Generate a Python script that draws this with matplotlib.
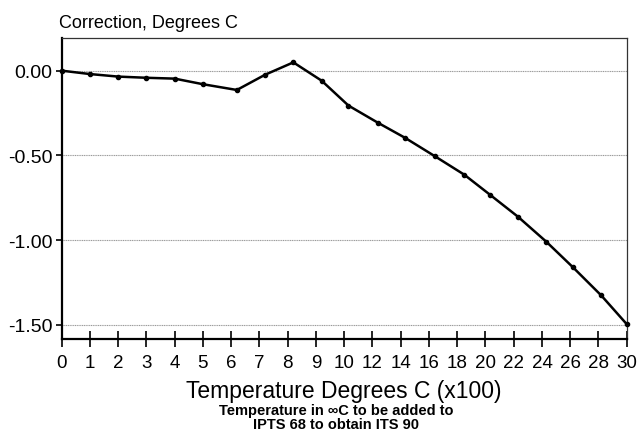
import numpy as np
import matplotlib
matplotlib.use("Agg")
import matplotlib.pyplot as plt

plt.rcParams['font.family'] = ['Liberation Sans', 'DejaVu Sans']

# temperature in degrees C (x100)
temp = [0, 1, 2, 3, 4, 5, 6.2, 7.2, 8.2, 9.2, 10.3, 12.4, 14.3, 16.4,
        18.5, 20.3, 22.3, 24.3, 26.2, 28.2, 30]
# correction, degrees C
corr = [0.00, -0.02, -0.035, -0.042, -0.047, -0.08, -0.114, -0.024, 0.049,
        -0.059, -0.206, -0.308, -0.396, -0.504, -0.614, -0.731, -0.862,
        -1.009, -1.161, -1.327, -1.496]

xticks = [0, 1, 2, 3, 4, 5, 6, 7, 8, 9, 10, 12, 14, 16, 18, 20, 22, 24, 26, 28, 30]
yticks = [0.0, -0.5, -1.0, -1.5]


# axis runs 0..10 at full scale, then 10..30 at half scale
def fwd(t):
    t = np.asarray(t, dtype=float)
    return np.where(t <= 10, t, 10 + (t - 10) / 2)


def inv(p):
    p = np.asarray(p, dtype=float)
    return np.where(p <= 10, p, 10 + 2 * (p - 10))


fig = plt.figure(figsize=[6.38, 4.31], dpi=100)
ax = fig.add_axes([0.0967, 0.2111, 0.8856, 0.6977])
ax.set_xscale('function', functions=(fwd, inv))

ax.plot(temp, corr, color='black', lw=1.8, marker='o', ms=3.0, zorder=3,
        clip_on=False)

ax.set_xlim(0, 30)
ax.set_ylim(-1.584, 0.191)
ax.set_xticks(xticks)
ax.set_xticklabels([str(t) for t in xticks])
ax.set_yticks(yticks)
ax.set_yticklabels(['%.2f' % v for v in yticks])
ax.xaxis.set_minor_locator(plt.NullLocator())

for v in yticks:
    ax.axhline(v, color='#9a9a9a', lw=0.8, ls=(0, (1, 0.6)), zorder=1)

ax.tick_params(axis='x', direction='inout', length=11, width=1.2,
               labelsize=13.5, pad=5)
ax.tick_params(axis='y', direction='out', length=4.5, width=1.2,
               labelsize=14, pad=2)

ax.spines['left'].set_linewidth(1.6)
ax.spines['bottom'].set_linewidth(1.6)
ax.spines['top'].set_linewidth(0.9)
ax.spines['right'].set_linewidth(0.9)
ax.spines['top'].set_color('#333333')
ax.spines['right'].set_color('#333333')

ax.set_xlabel('Temperature Degrees C (x100)', fontsize=16.5, labelpad=6)

fig.text(0.093, 1 - 23.3 / 431, 'Correction, Degrees C', fontsize=13,
         ha='left', va='center')
fig.text(0.527, 1 - 418 / 431, 'Temperature in \u221eC to be added to\nIPTS 68 to obtain ITS 90',
         fontsize=10.5, fontweight='bold', ha='center', va='center',
         linespacing=0.95)

fig.savefig('out.png', dpi=100)
